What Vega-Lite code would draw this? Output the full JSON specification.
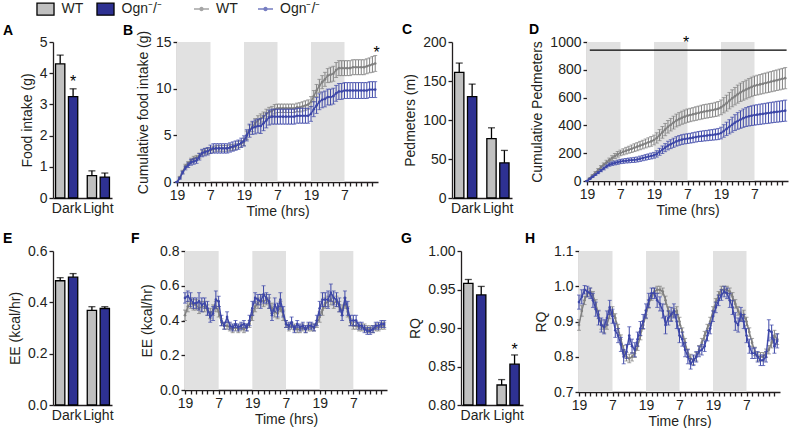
{
"$schema":"https://vega.github.io/schema/vega-lite/v6.json",
"padding":{"left":3,"top":2,"right":0,"bottom":0},
"config":{
 "font":"Liberation Sans",
 "view":{"stroke":null},
 "axis":{"labelFont":"Liberation Sans","titleFont":"Liberation Sans","labelFontSize":14,"titleFontSize":14,"titleFontWeight":"normal","labelColor":"#231f20","titleColor":"#231f20","domainColor":"#231f20","tickColor":"#231f20","domainWidth":1.3,"tickWidth":1.3,"tickSize":4,"labelPadding":2,"grid":false,"titlePadding":5},
 "title":{"font":"Liberation Sans","fontSize":14,"fontWeight":"bold","anchor":"start","frame":"group","color":"#000"},
 "legend":{"labelFont":"Liberation Sans","labelFontSize":14,"labelColor":"#231f20","padding":0}
},
"datasets":{
 "night":[{"t":0,"t2":12},{"t":24,"t2":36},{"t":48,"t2":60}],
 "A":[{"c":"Dark","g":"WT","m":4.3,"hi":4.58},{"c":"Dark","g":"Ogn⁻/⁻","m":3.25,"hi":3.5},{"c":"Light","g":"WT","m":0.72,"hi":0.87},{"c":"Light","g":"Ogn⁻/⁻","m":0.67,"hi":0.8}],
 "C":[{"c":"Dark","g":"WT","m":161,"hi":173},{"c":"Dark","g":"Ogn⁻/⁻","m":130,"hi":146},{"c":"Light","g":"WT","m":76,"hi":90},{"c":"Light","g":"Ogn⁻/⁻","m":45,"hi":61}],
 "E":[{"c":"Dark","g":"WT","m":0.484,"hi":0.496},{"c":"Dark","g":"Ogn⁻/⁻","m":0.498,"hi":0.512},{"c":"Light","g":"WT","m":0.369,"hi":0.383},{"c":"Light","g":"Ogn⁻/⁻","m":0.376,"hi":0.383}],
 "G":[{"c":"Dark","g":"WT","m":0.958,"hi":0.963},{"c":"Dark","g":"Ogn⁻/⁻","m":0.943,"hi":0.954},{"c":"Light","g":"WT","m":0.826,"hi":0.833},{"c":"Light","g":"Ogn⁻/⁻","m":0.853,"hi":0.865}],
 "B":[
{"t":0,"g":"WT","m":0,"e":0},{"t":1,"g":"WT","m":0.5,"e":0.1},{"t":2,"g":"WT","m":1.1,"e":0.15},{"t":3,"g":"WT","m":1.7,"e":0.2},{"t":4,"g":"WT","m":2.0,"e":0.2},{"t":5,"g":"WT","m":2.3,"e":0.25},{"t":6,"g":"WT","m":2.5,"e":0.25},{"t":7,"g":"WT","m":2.6,"e":0.25},{"t":8,"g":"WT","m":2.8,"e":0.3},{"t":9,"g":"WT","m":3.1,"e":0.3},{"t":10,"g":"WT","m":3.3,"e":0.3},{"t":11,"g":"WT","m":3.3,"e":0.3},
{"t":12,"g":"WT","m":3.4,"e":0.3},{"t":13,"g":"WT","m":3.5,"e":0.3},{"t":14,"g":"WT","m":3.6,"e":0.3},{"t":15,"g":"WT","m":3.6,"e":0.3},{"t":16,"g":"WT","m":3.6,"e":0.3},{"t":17,"g":"WT","m":3.6,"e":0.3},{"t":18,"g":"WT","m":3.6,"e":0.3},{"t":19,"g":"WT","m":3.7,"e":0.3},{"t":20,"g":"WT","m":3.7,"e":0.3},{"t":21,"g":"WT","m":3.8,"e":0.3},{"t":22,"g":"WT","m":4.0,"e":0.35},{"t":23,"g":"WT","m":4.1,"e":0.35},
{"t":24,"g":"WT","m":4.3,"e":0.4},{"t":25,"g":"WT","m":5.0,"e":0.45},{"t":26,"g":"WT","m":5.6,"e":0.5},{"t":27,"g":"WT","m":5.9,"e":0.5},{"t":28,"g":"WT","m":6.3,"e":0.5},{"t":29,"g":"WT","m":6.6,"e":0.5},{"t":30,"g":"WT","m":6.8,"e":0.5},{"t":31,"g":"WT","m":7.0,"e":0.5},{"t":32,"g":"WT","m":7.3,"e":0.5},{"t":33,"g":"WT","m":7.5,"e":0.5},{"t":34,"g":"WT","m":7.6,"e":0.5},{"t":35,"g":"WT","m":7.8,"e":0.5},
{"t":36,"g":"WT","m":7.9,"e":0.45},{"t":37,"g":"WT","m":7.9,"e":0.45},{"t":38,"g":"WT","m":7.9,"e":0.45},{"t":39,"g":"WT","m":7.9,"e":0.45},{"t":40,"g":"WT","m":7.9,"e":0.45},{"t":41,"g":"WT","m":7.9,"e":0.45},{"t":42,"g":"WT","m":7.9,"e":0.45},{"t":43,"g":"WT","m":8.0,"e":0.45},{"t":44,"g":"WT","m":8.0,"e":0.5},{"t":45,"g":"WT","m":8.1,"e":0.5},{"t":46,"g":"WT","m":8.2,"e":0.5},{"t":47,"g":"WT","m":8.3,"e":0.5},
{"t":48,"g":"WT","m":8.6,"e":0.55},{"t":49,"g":"WT","m":9.2,"e":0.6},{"t":50,"g":"WT","m":9.8,"e":0.65},{"t":51,"g":"WT","m":10.3,"e":0.7},{"t":52,"g":"WT","m":10.7,"e":0.7},{"t":53,"g":"WT","m":11.0,"e":0.75},{"t":54,"g":"WT","m":11.4,"e":0.75},{"t":55,"g":"WT","m":11.5,"e":0.8},{"t":56,"g":"WT","m":11.6,"e":0.8},{"t":57,"g":"WT","m":12.0,"e":0.8},{"t":58,"g":"WT","m":12.2,"e":0.8},{"t":59,"g":"WT","m":12.2,"e":0.8},
{"t":60,"g":"WT","m":12.2,"e":0.8},{"t":61,"g":"WT","m":12.2,"e":0.8},{"t":62,"g":"WT","m":12.2,"e":0.8},{"t":63,"g":"WT","m":12.3,"e":0.8},{"t":64,"g":"WT","m":12.3,"e":0.8},{"t":65,"g":"WT","m":12.3,"e":0.8},{"t":66,"g":"WT","m":12.3,"e":0.8},{"t":67,"g":"WT","m":12.3,"e":0.8},{"t":68,"g":"WT","m":12.4,"e":0.8},{"t":69,"g":"WT","m":12.5,"e":0.8},{"t":70,"g":"WT","m":12.6,"e":0.85},{"t":71,"g":"WT","m":12.7,"e":0.85},
{"t":0,"g":"Ogn⁻/⁻","m":0,"e":0},{"t":1,"g":"Ogn⁻/⁻","m":0.4,"e":0.1},{"t":2,"g":"Ogn⁻/⁻","m":1.0,"e":0.15},{"t":3,"g":"Ogn⁻/⁻","m":1.5,"e":0.2},{"t":4,"g":"Ogn⁻/⁻","m":1.8,"e":0.25},{"t":5,"g":"Ogn⁻/⁻","m":2.1,"e":0.3},{"t":6,"g":"Ogn⁻/⁻","m":2.2,"e":0.3},{"t":7,"g":"Ogn⁻/⁻","m":2.3,"e":0.3},{"t":8,"g":"Ogn⁻/⁻","m":2.7,"e":0.35},{"t":9,"g":"Ogn⁻/⁻","m":3.1,"e":0.4},{"t":10,"g":"Ogn⁻/⁻","m":3.2,"e":0.4},{"t":11,"g":"Ogn⁻/⁻","m":3.3,"e":0.4},
{"t":12,"g":"Ogn⁻/⁻","m":3.5,"e":0.45},{"t":13,"g":"Ogn⁻/⁻","m":3.6,"e":0.5},{"t":14,"g":"Ogn⁻/⁻","m":3.6,"e":0.5},{"t":15,"g":"Ogn⁻/⁻","m":3.6,"e":0.5},{"t":16,"g":"Ogn⁻/⁻","m":3.6,"e":0.5},{"t":17,"g":"Ogn⁻/⁻","m":3.6,"e":0.5},{"t":18,"g":"Ogn⁻/⁻","m":3.6,"e":0.5},{"t":19,"g":"Ogn⁻/⁻","m":3.7,"e":0.5},{"t":20,"g":"Ogn⁻/⁻","m":3.8,"e":0.5},{"t":21,"g":"Ogn⁻/⁻","m":3.9,"e":0.5},{"t":22,"g":"Ogn⁻/⁻","m":4.0,"e":0.5},{"t":23,"g":"Ogn⁻/⁻","m":4.2,"e":0.5},
{"t":24,"g":"Ogn⁻/⁻","m":4.4,"e":0.55},{"t":25,"g":"Ogn⁻/⁻","m":5.0,"e":0.6},{"t":26,"g":"Ogn⁻/⁻","m":5.5,"e":0.7},{"t":27,"g":"Ogn⁻/⁻","m":5.8,"e":0.7},{"t":28,"g":"Ogn⁻/⁻","m":5.9,"e":0.75},{"t":29,"g":"Ogn⁻/⁻","m":6.0,"e":0.75},{"t":30,"g":"Ogn⁻/⁻","m":6.0,"e":0.8},{"t":31,"g":"Ogn⁻/⁻","m":6.3,"e":0.8},{"t":32,"g":"Ogn⁻/⁻","m":6.6,"e":0.8},{"t":33,"g":"Ogn⁻/⁻","m":6.9,"e":0.8},{"t":34,"g":"Ogn⁻/⁻","m":7.0,"e":0.8},{"t":35,"g":"Ogn⁻/⁻","m":7.0,"e":0.8},
{"t":36,"g":"Ogn⁻/⁻","m":7.0,"e":0.8},{"t":37,"g":"Ogn⁻/⁻","m":7.0,"e":0.8},{"t":38,"g":"Ogn⁻/⁻","m":7.0,"e":0.8},{"t":39,"g":"Ogn⁻/⁻","m":7.0,"e":0.8},{"t":40,"g":"Ogn⁻/⁻","m":7.0,"e":0.8},{"t":41,"g":"Ogn⁻/⁻","m":7.0,"e":0.8},{"t":42,"g":"Ogn⁻/⁻","m":7.0,"e":0.8},{"t":43,"g":"Ogn⁻/⁻","m":7.1,"e":0.8},{"t":44,"g":"Ogn⁻/⁻","m":7.1,"e":0.8},{"t":45,"g":"Ogn⁻/⁻","m":7.1,"e":0.8},{"t":46,"g":"Ogn⁻/⁻","m":7.1,"e":0.8},{"t":47,"g":"Ogn⁻/⁻","m":7.1,"e":0.8},
{"t":48,"g":"Ogn⁻/⁻","m":7.3,"e":0.8},{"t":49,"g":"Ogn⁻/⁻","m":7.8,"e":0.8},{"t":50,"g":"Ogn⁻/⁻","m":8.2,"e":0.85},{"t":51,"g":"Ogn⁻/⁻","m":8.6,"e":0.85},{"t":52,"g":"Ogn⁻/⁻","m":8.8,"e":0.85},{"t":53,"g":"Ogn⁻/⁻","m":8.9,"e":0.85},{"t":54,"g":"Ogn⁻/⁻","m":9.1,"e":0.85},{"t":55,"g":"Ogn⁻/⁻","m":9.1,"e":0.85},{"t":56,"g":"Ogn⁻/⁻","m":9.2,"e":0.85},{"t":57,"g":"Ogn⁻/⁻","m":9.5,"e":0.85},{"t":58,"g":"Ogn⁻/⁻","m":9.7,"e":0.85},{"t":59,"g":"Ogn⁻/⁻","m":9.7,"e":0.85},
{"t":60,"g":"Ogn⁻/⁻","m":9.8,"e":0.85},{"t":61,"g":"Ogn⁻/⁻","m":9.8,"e":0.85},{"t":62,"g":"Ogn⁻/⁻","m":9.8,"e":0.85},{"t":63,"g":"Ogn⁻/⁻","m":9.8,"e":0.85},{"t":64,"g":"Ogn⁻/⁻","m":9.8,"e":0.85},{"t":65,"g":"Ogn⁻/⁻","m":9.8,"e":0.85},{"t":66,"g":"Ogn⁻/⁻","m":9.8,"e":0.85},{"t":67,"g":"Ogn⁻/⁻","m":9.8,"e":0.85},{"t":68,"g":"Ogn⁻/⁻","m":9.8,"e":0.85},{"t":69,"g":"Ogn⁻/⁻","m":9.9,"e":0.85},{"t":70,"g":"Ogn⁻/⁻","m":9.9,"e":0.85},{"t":71,"g":"Ogn⁻/⁻","m":9.9,"e":0.85}
 ],
 "D":[
{"t":0,"g":"WT","m":0,"e":0},{"t":1,"g":"WT","m":20,"e":3},{"t":2,"g":"WT","m":40,"e":5},{"t":3,"g":"WT","m":60,"e":7},{"t":4,"g":"WT","m":80,"e":9},{"t":5,"g":"WT","m":100,"e":11},{"t":6,"g":"WT","m":118,"e":12},{"t":7,"g":"WT","m":135,"e":14},{"t":8,"g":"WT","m":150,"e":15},{"t":9,"g":"WT","m":165,"e":17},{"t":10,"g":"WT","m":180,"e":18},{"t":11,"g":"WT","m":192,"e":20},
{"t":12,"g":"WT","m":202,"e":20},{"t":13,"g":"WT","m":210,"e":22},{"t":14,"g":"WT","m":218,"e":24},{"t":15,"g":"WT","m":225,"e":25},{"t":16,"g":"WT","m":232,"e":27},{"t":17,"g":"WT","m":240,"e":28},{"t":18,"g":"WT","m":247,"e":29},{"t":19,"g":"WT","m":255,"e":30},{"t":20,"g":"WT","m":262,"e":31},{"t":21,"g":"WT","m":270,"e":32},{"t":22,"g":"WT","m":278,"e":33},{"t":23,"g":"WT","m":285,"e":35},
{"t":24,"g":"WT","m":295,"e":35},{"t":25,"g":"WT","m":310,"e":37},{"t":26,"g":"WT","m":330,"e":40},{"t":27,"g":"WT","m":350,"e":42},{"t":28,"g":"WT","m":370,"e":44},{"t":29,"g":"WT","m":390,"e":45},{"t":30,"g":"WT","m":405,"e":45},{"t":31,"g":"WT","m":420,"e":46},{"t":32,"g":"WT","m":435,"e":46},{"t":33,"g":"WT","m":445,"e":47},{"t":34,"g":"WT","m":455,"e":47},{"t":35,"g":"WT","m":463,"e":48},
{"t":36,"g":"WT","m":470,"e":48},{"t":37,"g":"WT","m":475,"e":48},{"t":38,"g":"WT","m":480,"e":48},{"t":39,"g":"WT","m":485,"e":49},{"t":40,"g":"WT","m":490,"e":49},{"t":41,"g":"WT","m":495,"e":50},{"t":42,"g":"WT","m":500,"e":50},{"t":43,"g":"WT","m":503,"e":50},{"t":44,"g":"WT","m":507,"e":50},{"t":45,"g":"WT","m":510,"e":50},{"t":46,"g":"WT","m":515,"e":51},{"t":47,"g":"WT","m":520,"e":52},
{"t":48,"g":"WT","m":530,"e":53},{"t":49,"g":"WT","m":545,"e":55},{"t":50,"g":"WT","m":560,"e":57},{"t":51,"g":"WT","m":578,"e":59},{"t":52,"g":"WT","m":595,"e":61},{"t":53,"g":"WT","m":610,"e":63},{"t":54,"g":"WT","m":625,"e":65},{"t":55,"g":"WT","m":638,"e":66},{"t":56,"g":"WT","m":648,"e":67},{"t":57,"g":"WT","m":658,"e":68},{"t":58,"g":"WT","m":668,"e":69},{"t":59,"g":"WT","m":677,"e":70},
{"t":60,"g":"WT","m":685,"e":70},{"t":61,"g":"WT","m":690,"e":71},{"t":62,"g":"WT","m":695,"e":71},{"t":63,"g":"WT","m":700,"e":72},{"t":64,"g":"WT","m":705,"e":72},{"t":65,"g":"WT","m":710,"e":73},{"t":66,"g":"WT","m":715,"e":73},{"t":67,"g":"WT","m":720,"e":74},{"t":68,"g":"WT","m":725,"e":74},{"t":69,"g":"WT","m":730,"e":75},{"t":70,"g":"WT","m":735,"e":75},{"t":71,"g":"WT","m":740,"e":76},
{"t":0,"g":"Ogn⁻/⁻","m":0,"e":0},{"t":1,"g":"Ogn⁻/⁻","m":15,"e":2},{"t":2,"g":"Ogn⁻/⁻","m":30,"e":4},{"t":3,"g":"Ogn⁻/⁻","m":45,"e":5},{"t":4,"g":"Ogn⁻/⁻","m":60,"e":7},{"t":5,"g":"Ogn⁻/⁻","m":75,"e":8},{"t":6,"g":"Ogn⁻/⁻","m":90,"e":10},{"t":7,"g":"Ogn⁻/⁻","m":105,"e":11},{"t":8,"g":"Ogn⁻/⁻","m":118,"e":12},{"t":9,"g":"Ogn⁻/⁻","m":125,"e":13},{"t":10,"g":"Ogn⁻/⁻","m":130,"e":14},{"t":11,"g":"Ogn⁻/⁻","m":135,"e":15},
{"t":12,"g":"Ogn⁻/⁻","m":140,"e":15},{"t":13,"g":"Ogn⁻/⁻","m":143,"e":16},{"t":14,"g":"Ogn⁻/⁻","m":146,"e":16},{"t":15,"g":"Ogn⁻/⁻","m":148,"e":17},{"t":16,"g":"Ogn⁻/⁻","m":150,"e":17},{"t":17,"g":"Ogn⁻/⁻","m":152,"e":18},{"t":18,"g":"Ogn⁻/⁻","m":155,"e":18},{"t":19,"g":"Ogn⁻/⁻","m":160,"e":19},{"t":20,"g":"Ogn⁻/⁻","m":165,"e":19},{"t":21,"g":"Ogn⁻/⁻","m":170,"e":20},{"t":22,"g":"Ogn⁻/⁻","m":175,"e":20},{"t":23,"g":"Ogn⁻/⁻","m":180,"e":21},
{"t":24,"g":"Ogn⁻/⁻","m":185,"e":21},{"t":25,"g":"Ogn⁻/⁻","m":195,"e":23},{"t":26,"g":"Ogn⁻/⁻","m":210,"e":25},{"t":27,"g":"Ogn⁻/⁻","m":225,"e":27},{"t":28,"g":"Ogn⁻/⁻","m":240,"e":29},{"t":29,"g":"Ogn⁻/⁻","m":255,"e":31},{"t":30,"g":"Ogn⁻/⁻","m":265,"e":32},{"t":31,"g":"Ogn⁻/⁻","m":275,"e":33},{"t":32,"g":"Ogn⁻/⁻","m":285,"e":34},{"t":33,"g":"Ogn⁻/⁻","m":292,"e":35},{"t":34,"g":"Ogn⁻/⁻","m":298,"e":35},{"t":35,"g":"Ogn⁻/⁻","m":302,"e":35},
{"t":36,"g":"Ogn⁻/⁻","m":305,"e":35},{"t":37,"g":"Ogn⁻/⁻","m":308,"e":35},{"t":38,"g":"Ogn⁻/⁻","m":312,"e":36},{"t":39,"g":"Ogn⁻/⁻","m":316,"e":36},{"t":40,"g":"Ogn⁻/⁻","m":320,"e":36},{"t":41,"g":"Ogn⁻/⁻","m":322,"e":37},{"t":42,"g":"Ogn⁻/⁻","m":325,"e":37},{"t":43,"g":"Ogn⁻/⁻","m":327,"e":37},{"t":44,"g":"Ogn⁻/⁻","m":330,"e":38},{"t":45,"g":"Ogn⁻/⁻","m":332,"e":38},{"t":46,"g":"Ogn⁻/⁻","m":335,"e":39},{"t":47,"g":"Ogn⁻/⁻","m":338,"e":40},
{"t":48,"g":"Ogn⁻/⁻","m":345,"e":42},{"t":49,"g":"Ogn⁻/⁻","m":360,"e":45},{"t":50,"g":"Ogn⁻/⁻","m":375,"e":48},{"t":51,"g":"Ogn⁻/⁻","m":390,"e":51},{"t":52,"g":"Ogn⁻/⁻","m":405,"e":54},{"t":53,"g":"Ogn⁻/⁻","m":420,"e":57},{"t":54,"g":"Ogn⁻/⁻","m":432,"e":60},{"t":55,"g":"Ogn⁻/⁻","m":442,"e":63},{"t":56,"g":"Ogn⁻/⁻","m":452,"e":66},{"t":57,"g":"Ogn⁻/⁻","m":460,"e":68},{"t":58,"g":"Ogn⁻/⁻","m":466,"e":70},{"t":59,"g":"Ogn⁻/⁻","m":470,"e":71},
{"t":60,"g":"Ogn⁻/⁻","m":474,"e":72},{"t":61,"g":"Ogn⁻/⁻","m":477,"e":72},{"t":62,"g":"Ogn⁻/⁻","m":480,"e":73},{"t":63,"g":"Ogn⁻/⁻","m":483,"e":73},{"t":64,"g":"Ogn⁻/⁻","m":486,"e":73},{"t":65,"g":"Ogn⁻/⁻","m":489,"e":74},{"t":66,"g":"Ogn⁻/⁻","m":492,"e":74},{"t":67,"g":"Ogn⁻/⁻","m":495,"e":74},{"t":68,"g":"Ogn⁻/⁻","m":498,"e":75},{"t":69,"g":"Ogn⁻/⁻","m":500,"e":75},{"t":70,"g":"Ogn⁻/⁻","m":503,"e":75},{"t":71,"g":"Ogn⁻/⁻","m":506,"e":76}
 ],
 "F":[
{"t":0,"g":"WT","m":0.43,"e":0.03},{"t":1,"g":"WT","m":0.48,"e":0.03},{"t":2,"g":"WT","m":0.50,"e":0.03},{"t":3,"g":"WT","m":0.49,"e":0.03},{"t":4,"g":"WT","m":0.49,"e":0.03},{"t":5,"g":"WT","m":0.47,"e":0.03},{"t":6,"g":"WT","m":0.48,"e":0.03},{"t":7,"g":"WT","m":0.48,"e":0.03},{"t":8,"g":"WT","m":0.46,"e":0.03},{"t":9,"g":"WT","m":0.44,"e":0.03},{"t":10,"g":"WT","m":0.46,"e":0.03},{"t":11,"g":"WT","m":0.48,"e":0.03},
{"t":12,"g":"WT","m":0.45,"e":0.03},{"t":13,"g":"WT","m":0.39,"e":0.02},{"t":14,"g":"WT","m":0.37,"e":0.02},{"t":15,"g":"WT","m":0.37,"e":0.02},{"t":16,"g":"WT","m":0.36,"e":0.02},{"t":17,"g":"WT","m":0.35,"e":0.02},{"t":18,"g":"WT","m":0.36,"e":0.02},{"t":19,"g":"WT","m":0.35,"e":0.02},{"t":20,"g":"WT","m":0.36,"e":0.02},{"t":21,"g":"WT","m":0.35,"e":0.02},{"t":22,"g":"WT","m":0.36,"e":0.02},{"t":23,"g":"WT","m":0.38,"e":0.02},
{"t":24,"g":"WT","m":0.43,"e":0.03},{"t":25,"g":"WT","m":0.48,"e":0.03},{"t":26,"g":"WT","m":0.50,"e":0.03},{"t":27,"g":"WT","m":0.52,"e":0.03},{"t":28,"g":"WT","m":0.51,"e":0.03},{"t":29,"g":"WT","m":0.52,"e":0.03},{"t":30,"g":"WT","m":0.50,"e":0.03},{"t":31,"g":"WT","m":0.47,"e":0.03},{"t":32,"g":"WT","m":0.45,"e":0.03},{"t":33,"g":"WT","m":0.44,"e":0.03},{"t":34,"g":"WT","m":0.48,"e":0.03},{"t":35,"g":"WT","m":0.43,"e":0.03},
{"t":36,"g":"WT","m":0.38,"e":0.02},{"t":37,"g":"WT","m":0.36,"e":0.02},{"t":38,"g":"WT","m":0.37,"e":0.02},{"t":39,"g":"WT","m":0.36,"e":0.02},{"t":40,"g":"WT","m":0.35,"e":0.02},{"t":41,"g":"WT","m":0.35,"e":0.02},{"t":42,"g":"WT","m":0.36,"e":0.02},{"t":43,"g":"WT","m":0.35,"e":0.02},{"t":44,"g":"WT","m":0.36,"e":0.02},{"t":45,"g":"WT","m":0.36,"e":0.02},{"t":46,"g":"WT","m":0.36,"e":0.02},{"t":47,"g":"WT","m":0.38,"e":0.02},
{"t":48,"g":"WT","m":0.42,"e":0.03},{"t":49,"g":"WT","m":0.46,"e":0.03},{"t":50,"g":"WT","m":0.50,"e":0.03},{"t":51,"g":"WT","m":0.51,"e":0.03},{"t":52,"g":"WT","m":0.52,"e":0.03},{"t":53,"g":"WT","m":0.50,"e":0.03},{"t":54,"g":"WT","m":0.51,"e":0.03},{"t":55,"g":"WT","m":0.48,"e":0.03},{"t":56,"g":"WT","m":0.46,"e":0.03},{"t":57,"g":"WT","m":0.50,"e":0.03},{"t":58,"g":"WT","m":0.45,"e":0.03},{"t":59,"g":"WT","m":0.39,"e":0.02},
{"t":60,"g":"WT","m":0.37,"e":0.02},{"t":61,"g":"WT","m":0.37,"e":0.02},{"t":62,"g":"WT","m":0.36,"e":0.02},{"t":63,"g":"WT","m":0.36,"e":0.02},{"t":64,"g":"WT","m":0.36,"e":0.02},{"t":65,"g":"WT","m":0.35,"e":0.02},{"t":66,"g":"WT","m":0.35,"e":0.02},{"t":67,"g":"WT","m":0.35,"e":0.02},{"t":68,"g":"WT","m":0.36,"e":0.02},{"t":69,"g":"WT","m":0.36,"e":0.02},{"t":70,"g":"WT","m":0.37,"e":0.02},{"t":71,"g":"WT","m":0.37,"e":0.02},
{"t":0,"g":"Ogn⁻/⁻","m":0.53,"e":0.03},{"t":1,"g":"Ogn⁻/⁻","m":0.54,"e":0.03},{"t":2,"g":"Ogn⁻/⁻","m":0.52,"e":0.04},{"t":3,"g":"Ogn⁻/⁻","m":0.50,"e":0.03},{"t":4,"g":"Ogn⁻/⁻","m":0.50,"e":0.03},{"t":5,"g":"Ogn⁻/⁻","m":0.51,"e":0.05},{"t":6,"g":"Ogn⁻/⁻","m":0.49,"e":0.04},{"t":7,"g":"Ogn⁻/⁻","m":0.50,"e":0.03},{"t":8,"g":"Ogn⁻/⁻","m":0.47,"e":0.04},{"t":9,"g":"Ogn⁻/⁻","m":0.42,"e":0.03},{"t":10,"g":"Ogn⁻/⁻","m":0.44,"e":0.04},{"t":11,"g":"Ogn⁻/⁻","m":0.52,"e":0.05},
{"t":12,"g":"Ogn⁻/⁻","m":0.51,"e":0.03},{"t":13,"g":"Ogn⁻/⁻","m":0.40,"e":0.03},{"t":14,"g":"Ogn⁻/⁻","m":0.37,"e":0.02},{"t":15,"g":"Ogn⁻/⁻","m":0.42,"e":0.03},{"t":16,"g":"Ogn⁻/⁻","m":0.37,"e":0.02},{"t":17,"g":"Ogn⁻/⁻","m":0.36,"e":0.02},{"t":18,"g":"Ogn⁻/⁻","m":0.38,"e":0.02},{"t":19,"g":"Ogn⁻/⁻","m":0.36,"e":0.02},{"t":20,"g":"Ogn⁻/⁻","m":0.37,"e":0.02},{"t":21,"g":"Ogn⁻/⁻","m":0.38,"e":0.02},{"t":22,"g":"Ogn⁻/⁻","m":0.36,"e":0.02},{"t":23,"g":"Ogn⁻/⁻","m":0.40,"e":0.03},
{"t":24,"g":"Ogn⁻/⁻","m":0.47,"e":0.04},{"t":25,"g":"Ogn⁻/⁻","m":0.53,"e":0.03},{"t":26,"g":"Ogn⁻/⁻","m":0.52,"e":0.03},{"t":27,"g":"Ogn⁻/⁻","m":0.51,"e":0.04},{"t":28,"g":"Ogn⁻/⁻","m":0.55,"e":0.05},{"t":29,"g":"Ogn⁻/⁻","m":0.53,"e":0.03},{"t":30,"g":"Ogn⁻/⁻","m":0.51,"e":0.04},{"t":31,"g":"Ogn⁻/⁻","m":0.43,"e":0.03},{"t":32,"g":"Ogn⁻/⁻","m":0.49,"e":0.04},{"t":33,"g":"Ogn⁻/⁻","m":0.46,"e":0.04},{"t":34,"g":"Ogn⁻/⁻","m":0.52,"e":0.04},{"t":35,"g":"Ogn⁻/⁻","m":0.45,"e":0.03},
{"t":36,"g":"Ogn⁻/⁻","m":0.38,"e":0.02},{"t":37,"g":"Ogn⁻/⁻","m":0.37,"e":0.02},{"t":38,"g":"Ogn⁻/⁻","m":0.39,"e":0.03},{"t":39,"g":"Ogn⁻/⁻","m":0.35,"e":0.02},{"t":40,"g":"Ogn⁻/⁻","m":0.38,"e":0.02},{"t":41,"g":"Ogn⁻/⁻","m":0.36,"e":0.02},{"t":42,"g":"Ogn⁻/⁻","m":0.37,"e":0.02},{"t":43,"g":"Ogn⁻/⁻","m":0.35,"e":0.02},{"t":44,"g":"Ogn⁻/⁻","m":0.37,"e":0.02},{"t":45,"g":"Ogn⁻/⁻","m":0.37,"e":0.02},{"t":46,"g":"Ogn⁻/⁻","m":0.36,"e":0.02},{"t":47,"g":"Ogn⁻/⁻","m":0.40,"e":0.03},
{"t":48,"g":"Ogn⁻/⁻","m":0.47,"e":0.04},{"t":49,"g":"Ogn⁻/⁻","m":0.52,"e":0.04},{"t":50,"g":"Ogn⁻/⁻","m":0.52,"e":0.04},{"t":51,"g":"Ogn⁻/⁻","m":0.52,"e":0.05},{"t":52,"g":"Ogn⁻/⁻","m":0.56,"e":0.05},{"t":53,"g":"Ogn⁻/⁻","m":0.53,"e":0.04},{"t":54,"g":"Ogn⁻/⁻","m":0.52,"e":0.04},{"t":55,"g":"Ogn⁻/⁻","m":0.49,"e":0.04},{"t":56,"g":"Ogn⁻/⁻","m":0.43,"e":0.03},{"t":57,"g":"Ogn⁻/⁻","m":0.53,"e":0.04},{"t":58,"g":"Ogn⁻/⁻","m":0.47,"e":0.04},{"t":59,"g":"Ogn⁻/⁻","m":0.40,"e":0.03},
{"t":60,"g":"Ogn⁻/⁻","m":0.40,"e":0.03},{"t":61,"g":"Ogn⁻/⁻","m":0.40,"e":0.03},{"t":62,"g":"Ogn⁻/⁻","m":0.37,"e":0.02},{"t":63,"g":"Ogn⁻/⁻","m":0.37,"e":0.02},{"t":64,"g":"Ogn⁻/⁻","m":0.35,"e":0.02},{"t":65,"g":"Ogn⁻/⁻","m":0.34,"e":0.02},{"t":66,"g":"Ogn⁻/⁻","m":0.34,"e":0.02},{"t":67,"g":"Ogn⁻/⁻","m":0.35,"e":0.02},{"t":68,"g":"Ogn⁻/⁻","m":0.37,"e":0.02},{"t":69,"g":"Ogn⁻/⁻","m":0.37,"e":0.02},{"t":70,"g":"Ogn⁻/⁻","m":0.38,"e":0.02},{"t":71,"g":"Ogn⁻/⁻","m":0.38,"e":0.02}
 ],
 "H":[
{"t":0,"g":"WT","m":0.890,"e":0.015},{"t":1,"g":"WT","m":0.930,"e":0.015},{"t":2,"g":"WT","m":0.960,"e":0.012},{"t":3,"g":"WT","m":0.980,"e":0.01},{"t":4,"g":"WT","m":0.985,"e":0.01},{"t":5,"g":"WT","m":0.975,"e":0.01},{"t":6,"g":"WT","m":0.950,"e":0.012},{"t":7,"g":"WT","m":0.920,"e":0.012},{"t":8,"g":"WT","m":0.890,"e":0.012},{"t":9,"g":"WT","m":0.880,"e":0.012},{"t":10,"g":"WT","m":0.890,"e":0.012},{"t":11,"g":"WT","m":0.920,"e":0.012},
{"t":12,"g":"WT","m":0.930,"e":0.012},{"t":13,"g":"WT","m":0.910,"e":0.012},{"t":14,"g":"WT","m":0.880,"e":0.012},{"t":15,"g":"WT","m":0.850,"e":0.012},{"t":16,"g":"WT","m":0.820,"e":0.012},{"t":17,"g":"WT","m":0.800,"e":0.012},{"t":18,"g":"WT","m":0.795,"e":0.012},{"t":19,"g":"WT","m":0.800,"e":0.012},{"t":20,"g":"WT","m":0.810,"e":0.012},{"t":21,"g":"WT","m":0.830,"e":0.012},{"t":22,"g":"WT","m":0.860,"e":0.012},{"t":23,"g":"WT","m":0.890,"e":0.012},
{"t":24,"g":"WT","m":0.920,"e":0.012},{"t":25,"g":"WT","m":0.950,"e":0.012},{"t":26,"g":"WT","m":0.970,"e":0.01},{"t":27,"g":"WT","m":0.985,"e":0.01},{"t":28,"g":"WT","m":0.990,"e":0.01},{"t":29,"g":"WT","m":0.990,"e":0.01},{"t":30,"g":"WT","m":0.985,"e":0.01},{"t":31,"g":"WT","m":0.960,"e":0.012},{"t":32,"g":"WT","m":0.930,"e":0.012},{"t":33,"g":"WT","m":0.915,"e":0.012},{"t":34,"g":"WT","m":0.925,"e":0.012},{"t":35,"g":"WT","m":0.930,"e":0.012},
{"t":36,"g":"WT","m":0.900,"e":0.012},{"t":37,"g":"WT","m":0.870,"e":0.012},{"t":38,"g":"WT","m":0.840,"e":0.012},{"t":39,"g":"WT","m":0.810,"e":0.012},{"t":40,"g":"WT","m":0.795,"e":0.012},{"t":41,"g":"WT","m":0.790,"e":0.012},{"t":42,"g":"WT","m":0.800,"e":0.012},{"t":43,"g":"WT","m":0.820,"e":0.012},{"t":44,"g":"WT","m":0.840,"e":0.012},{"t":45,"g":"WT","m":0.860,"e":0.012},{"t":46,"g":"WT","m":0.880,"e":0.012},{"t":47,"g":"WT","m":0.900,"e":0.012},
{"t":48,"g":"WT","m":0.930,"e":0.012},{"t":49,"g":"WT","m":0.955,"e":0.01},{"t":50,"g":"WT","m":0.975,"e":0.01},{"t":51,"g":"WT","m":0.990,"e":0.01},{"t":52,"g":"WT","m":0.990,"e":0.01},{"t":53,"g":"WT","m":0.990,"e":0.01},{"t":54,"g":"WT","m":0.985,"e":0.01},{"t":55,"g":"WT","m":0.970,"e":0.012},{"t":56,"g":"WT","m":0.950,"e":0.012},{"t":57,"g":"WT","m":0.930,"e":0.012},{"t":58,"g":"WT","m":0.915,"e":0.012},{"t":59,"g":"WT","m":0.920,"e":0.012},
{"t":60,"g":"WT","m":0.900,"e":0.012},{"t":61,"g":"WT","m":0.870,"e":0.012},{"t":62,"g":"WT","m":0.840,"e":0.012},{"t":63,"g":"WT","m":0.815,"e":0.012},{"t":64,"g":"WT","m":0.800,"e":0.012},{"t":65,"g":"WT","m":0.800,"e":0.012},{"t":66,"g":"WT","m":0.800,"e":0.012},{"t":67,"g":"WT","m":0.810,"e":0.012},{"t":68,"g":"WT","m":0.820,"e":0.012},{"t":69,"g":"WT","m":0.840,"e":0.015},{"t":70,"g":"WT","m":0.860,"e":0.015},{"t":71,"g":"WT","m":0.850,"e":0.015},
{"t":0,"g":"Ogn⁻/⁻","m":0.955,"e":0.02},{"t":1,"g":"Ogn⁻/⁻","m":0.970,"e":0.02},{"t":2,"g":"Ogn⁻/⁻","m":0.990,"e":0.012},{"t":3,"g":"Ogn⁻/⁻","m":0.985,"e":0.015},{"t":4,"g":"Ogn⁻/⁻","m":0.980,"e":0.015},{"t":5,"g":"Ogn⁻/⁻","m":0.960,"e":0.02},{"t":6,"g":"Ogn⁻/⁻","m":0.935,"e":0.02},{"t":7,"g":"Ogn⁻/⁻","m":0.910,"e":0.02},{"t":8,"g":"Ogn⁻/⁻","m":0.890,"e":0.02},{"t":9,"g":"Ogn⁻/⁻","m":0.885,"e":0.02},{"t":10,"g":"Ogn⁻/⁻","m":0.910,"e":0.02},{"t":11,"g":"Ogn⁻/⁻","m":0.940,"e":0.02},
{"t":12,"g":"Ogn⁻/⁻","m":0.915,"e":0.02},{"t":13,"g":"Ogn⁻/⁻","m":0.875,"e":0.02},{"t":14,"g":"Ogn⁻/⁻","m":0.860,"e":0.02},{"t":15,"g":"Ogn⁻/⁻","m":0.835,"e":0.02},{"t":16,"g":"Ogn⁻/⁻","m":0.800,"e":0.02},{"t":17,"g":"Ogn⁻/⁻","m":0.815,"e":0.02},{"t":18,"g":"Ogn⁻/⁻","m":0.860,"e":0.025},{"t":19,"g":"Ogn⁻/⁻","m":0.830,"e":0.02},{"t":20,"g":"Ogn⁻/⁻","m":0.820,"e":0.02},{"t":21,"g":"Ogn⁻/⁻","m":0.850,"e":0.02},{"t":22,"g":"Ogn⁻/⁻","m":0.880,"e":0.02},{"t":23,"g":"Ogn⁻/⁻","m":0.900,"e":0.02},
{"t":24,"g":"Ogn⁻/⁻","m":0.930,"e":0.02},{"t":25,"g":"Ogn⁻/⁻","m":0.960,"e":0.02},{"t":26,"g":"Ogn⁻/⁻","m":0.980,"e":0.015},{"t":27,"g":"Ogn⁻/⁻","m":0.980,"e":0.015},{"t":28,"g":"Ogn⁻/⁻","m":0.960,"e":0.02},{"t":29,"g":"Ogn⁻/⁻","m":0.950,"e":0.02},{"t":30,"g":"Ogn⁻/⁻","m":0.930,"e":0.02},{"t":31,"g":"Ogn⁻/⁻","m":0.890,"e":0.025},{"t":32,"g":"Ogn⁻/⁻","m":0.910,"e":0.02},{"t":33,"g":"Ogn⁻/⁻","m":0.920,"e":0.02},{"t":34,"g":"Ogn⁻/⁻","m":0.930,"e":0.02},{"t":35,"g":"Ogn⁻/⁻","m":0.900,"e":0.02},
{"t":36,"g":"Ogn⁻/⁻","m":0.860,"e":0.02},{"t":37,"g":"Ogn⁻/⁻","m":0.850,"e":0.02},{"t":38,"g":"Ogn⁻/⁻","m":0.820,"e":0.02},{"t":39,"g":"Ogn⁻/⁻","m":0.800,"e":0.02},{"t":40,"g":"Ogn⁻/⁻","m":0.780,"e":0.015},{"t":41,"g":"Ogn⁻/⁻","m":0.790,"e":0.015},{"t":42,"g":"Ogn⁻/⁻","m":0.800,"e":0.015},{"t":43,"g":"Ogn⁻/⁻","m":0.815,"e":0.015},{"t":44,"g":"Ogn⁻/⁻","m":0.820,"e":0.015},{"t":45,"g":"Ogn⁻/⁻","m":0.830,"e":0.015},{"t":46,"g":"Ogn⁻/⁻","m":0.860,"e":0.015},{"t":47,"g":"Ogn⁻/⁻","m":0.880,"e":0.015},
{"t":48,"g":"Ogn⁻/⁻","m":0.915,"e":0.015},{"t":49,"g":"Ogn⁻/⁻","m":0.940,"e":0.015},{"t":50,"g":"Ogn⁻/⁻","m":0.960,"e":0.015},{"t":51,"g":"Ogn⁻/⁻","m":0.975,"e":0.015},{"t":52,"g":"Ogn⁻/⁻","m":0.985,"e":0.015},{"t":53,"g":"Ogn⁻/⁻","m":0.980,"e":0.015},{"t":54,"g":"Ogn⁻/⁻","m":0.960,"e":0.02},{"t":55,"g":"Ogn⁻/⁻","m":0.940,"e":0.02},{"t":56,"g":"Ogn⁻/⁻","m":0.900,"e":0.025},{"t":57,"g":"Ogn⁻/⁻","m":0.890,"e":0.02},{"t":58,"g":"Ogn⁻/⁻","m":0.920,"e":0.02},{"t":59,"g":"Ogn⁻/⁻","m":0.900,"e":0.02},
{"t":60,"g":"Ogn⁻/⁻","m":0.860,"e":0.02},{"t":61,"g":"Ogn⁻/⁻","m":0.830,"e":0.02},{"t":62,"g":"Ogn⁻/⁻","m":0.810,"e":0.015},{"t":63,"g":"Ogn⁻/⁻","m":0.810,"e":0.015},{"t":64,"g":"Ogn⁻/⁻","m":0.800,"e":0.015},{"t":65,"g":"Ogn⁻/⁻","m":0.790,"e":0.015},{"t":66,"g":"Ogn⁻/⁻","m":0.790,"e":0.015},{"t":67,"g":"Ogn⁻/⁻","m":0.800,"e":0.015},{"t":68,"g":"Ogn⁻/⁻","m":0.875,"e":0.03},{"t":69,"g":"Ogn⁻/⁻","m":0.870,"e":0.02},{"t":70,"g":"Ogn⁻/⁻","m":0.830,"e":0.02},{"t":71,"g":"Ogn⁻/⁻","m":0.845,"e":0.02}
 ]
},
"vconcat":[
 {"hconcat":[
   {"width":68,"height":156,
    "title":{"text":"A","dx":-50,"offset":-36},
    "data":{"name":"A"},
    "encoding":{
     "x":{"field":"c","type":"nominal","sort":["Dark","Light"],"scale":{"range":[0,59],"paddingInner":0.3,"paddingOuter":0.08},"axis":{"title":null,"ticks":false,"labelAngle":0,"labelPadding":3,"labelOverlap":false}},
     "xOffset":{"field":"g","type":"nominal","sort":["WT","Ogn⁻/⁻"],"scale":{"paddingInner":0.28}},
     "y":{"field":"m","type":"quantitative","scale":{"domain":[0,5],"nice":false},"axis":{"title":"Food intake (g)","values":[0,1,2,3,4,5]}}
    },
    "layer":[
     {"mark":{"type":"bar","stroke":"#000","strokeWidth":1.3},"encoding":{"color":{"field":"g","type":"nominal","scale":{"domain":["WT","Ogn⁻/⁻"],"range":["#c0c0c0","#2e3192"]},"legend":{"orient":"none","legendX":-14.5,"legendY":-40,"direction":"horizontal","title":null,"symbolType":"M-1.42,-1H1.42V1H-1.42Z","symbolSize":144,"symbolStrokeColor":"#000","symbolStrokeWidth":1.3,"labelOffset":9,"columnPadding":10,"padding":0}}}},
     {"mark":{"type":"rule","color":"#000","strokeWidth":1.3},"encoding":{"y2":{"field":"hi"}}},
     {"mark":{"type":"tick","color":"#000","thickness":1.3,"size":7,"orient":"horizontal"},"encoding":{"y":{"field":"hi","type":"quantitative"}}},
     {"data":{"values":[{"c":"Dark","g":"Ogn⁻/⁻","m":3.55,"s":"*"}]},"mark":{"type":"text","fontSize":16,"baseline":"alphabetic","color":"#000"},"encoding":{"text":{"field":"s"}}}
    ]},
   {"width":219,"height":140,
    "title":{"text":"B","dx":-54,"offset":-36},
    "data":{"name":"B"},
    "encoding":{
     "x":{"field":"t","type":"quantitative","scale":{"domain":[0,72],"range":[0,201],"nice":false,"zero":false},"axis":{"title":"Time (hrs)","values":[0,2,4,6,8,10,12,14,16,18,20,22,24,26,28,30,32,34,36,38,40,42,44,46,48,50,52,54,56,58,60,62,64,66,68,70],"labelExpr":"datum.value % 24 == 0 ? '19' : (datum.value % 24 == 12 ? '7' : '')","labelOverlap":false,"labelFlush":false,"titlePadding":2}},
     "y":{"field":"m","type":"quantitative","scale":{"domain":[0,15],"nice":false},"axis":{"title":"Cumulative food intake (g)","values":[0,5,10,15]}},
     "color":{"field":"g","type":"nominal","scale":{"domain":["WT","Ogn⁻/⁻"],"range":["#808080","#3d47a8"]},"legend":{"orient":"none","legendX":17.5,"legendY":-40,"direction":"horizontal","title":null,"symbolType":"M-1.5,0H1.5M0.3,0A0.3,0.3,0,1,1,-0.3,0A0.3,0.3,0,1,1,0.3,0","symbolSize":100,"symbolStrokeWidth":1.5,"labelOffset":7.5,"columnPadding":16,"padding":0}}
    },
    "layer":[
     {"data":{"name":"night"},"mark":{"type":"rect","opacity":1},"encoding":{"x2":{"field":"t2"},"y":{"value":0},"y2":{"value":"height"},"color":{"value":"#e1e1e1"}}},
     {"transform":[{"filter":{"field":"g","equal":"WT"}}],"mark":{"type":"errorbar","ticks":true,"size":4,"thickness":1},"encoding":{"yError":{"field":"e"}}},
     {"transform":[{"filter":{"field":"g","equal":"WT"}}],"mark":{"type":"line","strokeWidth":1.4,"point":{"filled":true,"size":7}}},
     {"transform":[{"filter":{"field":"g","equal":"Ogn⁻/⁻"}}],"mark":{"type":"errorbar","ticks":true,"size":4,"thickness":1},"encoding":{"yError":{"field":"e"}}},
     {"transform":[{"filter":{"field":"g","equal":"Ogn⁻/⁻"}}],"mark":{"type":"line","strokeWidth":1.4,"point":{"filled":true,"size":7}}},
     {"data":{"values":[{"t":71.5,"m":13.3,"s":"*"}]},"mark":{"type":"text","fontSize":16,"baseline":"alphabetic"},"encoding":{"text":{"field":"s"},"color":{"value":"#000"}}}
    ]},
  {"width":79,"height":156,
   "title":{"text":"C","dx":-50,"offset":-2},
   "data":{"name":"C"},
   "encoding":{
    "x":{"field":"c","type":"nominal","sort":["Dark","Light"],"scale":{"range":[0,60],"paddingInner":0.3,"paddingOuter":0.08},"axis":{"title":null,"ticks":false,"labelAngle":0,"labelPadding":3,"labelOverlap":false}},
    "xOffset":{"field":"g","type":"nominal","sort":["WT","Ogn⁻/⁻"],"scale":{"paddingInner":0.28}},
    "y":{"field":"m","type":"quantitative","scale":{"domain":[0,200],"nice":false},"axis":{"title":"Pedmeters (m)","values":[0,50,100,150,200]}}
   },
   "layer":[
    {"mark":{"type":"bar","stroke":"#000","strokeWidth":1.3},"encoding":{"color":{"field":"g","type":"nominal","scale":{"domain":["WT","Ogn⁻/⁻"],"range":["#c0c0c0","#2e3192"]},"legend":null}}},
    {"mark":{"type":"rule","color":"#000","strokeWidth":1.3},"encoding":{"y2":{"field":"hi"}}},
    {"mark":{"type":"tick","color":"#000","thickness":1.3,"size":7,"orient":"horizontal"},"encoding":{"y":{"field":"hi","type":"quantitative"}}}
   ]},
  {"width":201,"height":139,
   "title":{"text":"D","dx":-58,"offset":-2},
   "data":{"name":"D"},
   "encoding":{
    "x":{"field":"t","type":"quantitative","scale":{"domain":[0,72],"nice":false,"zero":false},"axis":{"title":"Time (hrs)","values":[0,2,4,6,8,10,12,14,16,18,20,22,24,26,28,30,32,34,36,38,40,42,44,46,48,50,52,54,56,58,60,62,64,66,68,70],"labelExpr":"datum.value % 24 == 0 ? '19' : (datum.value % 24 == 12 ? '7' : '')","labelOverlap":false,"labelFlush":false,"titlePadding":2}},
    "y":{"field":"m","type":"quantitative","scale":{"domain":[0,1000],"nice":false},"axis":{"title":"Cumulative Pedmeters","values":[0,200,400,600,800,1000],"format":"d"}},
    "color":{"field":"g","type":"nominal","scale":{"domain":["WT","Ogn⁻/⁻"],"range":["#808080","#3d47a8"]},"legend":null}
   },
   "layer":[
    {"data":{"name":"night"},"mark":{"type":"rect","opacity":1},"encoding":{"x2":{"field":"t2"},"y":{"value":0},"y2":{"value":"height"},"color":{"value":"#e1e1e1"}}},
    {"transform":[{"filter":{"field":"g","equal":"WT"}}],"mark":{"type":"errorbar","ticks":true,"size":4,"thickness":1},"encoding":{"yError":{"field":"e"}}},
    {"transform":[{"filter":{"field":"g","equal":"WT"}}],"mark":{"type":"line","strokeWidth":1.4,"point":{"filled":true,"size":7}}},
    {"transform":[{"filter":{"field":"g","equal":"Ogn⁻/⁻"}}],"mark":{"type":"errorbar","ticks":true,"size":4,"thickness":1},"encoding":{"yError":{"field":"e"}}},
    {"transform":[{"filter":{"field":"g","equal":"Ogn⁻/⁻"}}],"mark":{"type":"line","strokeWidth":1.4,"point":{"filled":true,"size":7}}},
    {"data":{"values":[{"t":1,"t2":71.5,"m":942}]},"mark":{"type":"rule","strokeWidth":1.3},"encoding":{"x2":{"field":"t2"},"color":{"value":"#000"}}},
    {"data":{"values":[{"t":35.5,"m":955,"s":"*"}]},"mark":{"type":"text","fontSize":16,"baseline":"alphabetic"},"encoding":{"text":{"field":"s"},"color":{"value":"#000"}}}
   ]}
 ],"spacing":56,"bounds":"flush","resolve":{"scale":{"color":"independent","x":"independent","y":"independent"},"legend":{"color":"independent"}}},
 {"hconcat":[
   {"width":76,"height":154,
    "title":{"text":"E","dx":-50,"offset":-2},
    "data":{"name":"E"},
    "encoding":{
     "x":{"field":"c","type":"nominal","sort":["Dark","Light"],"scale":{"range":[0,59],"paddingInner":0.3,"paddingOuter":0.08},"axis":{"title":null,"ticks":false,"labelAngle":0,"labelPadding":3,"labelOverlap":false}},
     "xOffset":{"field":"g","type":"nominal","sort":["WT","Ogn⁻/⁻"],"scale":{"paddingInner":0.28}},
     "y":{"field":"m","type":"quantitative","scale":{"domain":[0,0.6],"nice":false},"axis":{"title":"EE (kcal/hr)","values":[0,0.2,0.4,0.6],"format":".1f"}}
    },
    "layer":[
     {"mark":{"type":"bar","stroke":"#000","strokeWidth":1.3},"encoding":{"color":{"field":"g","type":"nominal","scale":{"domain":["WT","Ogn⁻/⁻"],"range":["#c0c0c0","#2e3192"]},"legend":null}}},
     {"mark":{"type":"rule","color":"#000","strokeWidth":1.3},"encoding":{"y2":{"field":"hi"}}},
     {"mark":{"type":"tick","color":"#000","thickness":1.3,"size":7,"orient":"horizontal"},"encoding":{"y":{"field":"hi","type":"quantitative"}}}
    ]},
   {"width":220,"height":139,
    "title":{"text":"F","dx":-54,"offset":-2},
    "data":{"name":"F"},
    "encoding":{
     "x":{"field":"t","type":"quantitative","scale":{"domain":[0,72],"range":[0,202],"nice":false,"zero":false},"axis":{"title":"Time (hrs)","values":[0,2,4,6,8,10,12,14,16,18,20,22,24,26,28,30,32,34,36,38,40,42,44,46,48,50,52,54,56,58,60,62,64,66,68,70],"labelExpr":"datum.value % 24 == 0 ? '19' : (datum.value % 24 == 12 ? '7' : '')","labelOverlap":false,"labelFlush":false,"titlePadding":2}},
     "y":{"field":"m","type":"quantitative","scale":{"domain":[0,0.8],"nice":false},"axis":{"title":"EE (kcal/hr)","values":[0,0.2,0.4,0.6,0.8],"format":".1f"}},
     "color":{"field":"g","type":"nominal","scale":{"domain":["WT","Ogn⁻/⁻"],"range":["#808080","#3d47a8"]},"legend":null}
    },
    "layer":[
     {"data":{"name":"night"},"mark":{"type":"rect","opacity":1},"encoding":{"x2":{"field":"t2"},"y":{"value":0},"y2":{"value":"height"},"color":{"value":"#e1e1e1"}}},
     {"transform":[{"filter":{"field":"g","equal":"WT"}}],"mark":{"type":"errorbar","ticks":true,"size":4,"thickness":1},"encoding":{"yError":{"field":"e"}}},
     {"transform":[{"filter":{"field":"g","equal":"WT"}}],"mark":{"type":"line","strokeWidth":1.4,"point":{"filled":true,"size":7}}},
     {"transform":[{"filter":{"field":"g","equal":"Ogn⁻/⁻"}}],"mark":{"type":"errorbar","ticks":true,"size":4,"thickness":1},"encoding":{"yError":{"field":"e"}}},
     {"transform":[{"filter":{"field":"g","equal":"Ogn⁻/⁻"}}],"mark":{"type":"line","strokeWidth":1.4,"point":{"filled":true,"size":7}}}
    ]},
   {"width":62,"height":154,
    "title":{"text":"G","dx":-60,"offset":-2},
    "data":{"name":"G"},
    "encoding":{
     "x":{"field":"c","type":"nominal","sort":["Dark","Light"],"scale":{"paddingInner":0.3,"paddingOuter":0.08},"axis":{"title":null,"ticks":false,"labelAngle":0,"labelPadding":3,"labelOverlap":false}},
     "xOffset":{"field":"g","type":"nominal","sort":["WT","Ogn⁻/⁻"],"scale":{"paddingInner":0.28}},
     "y":{"field":"m","type":"quantitative","scale":{"domain":[0.8,1.0],"nice":false,"zero":false},"axis":{"title":"RQ","values":[0.8,0.85,0.9,0.95,1.0],"format":".2f"}}
    },
    "layer":[
     {"mark":{"type":"bar","stroke":"#000","strokeWidth":1.3},"encoding":{"y2":{"datum":0.8},"color":{"field":"g","type":"nominal","scale":{"domain":["WT","Ogn⁻/⁻"],"range":["#c0c0c0","#2e3192"]},"legend":null}}},
     {"mark":{"type":"rule","color":"#000","strokeWidth":1.3},"encoding":{"y2":{"field":"hi"}}},
     {"mark":{"type":"tick","color":"#000","thickness":1.3,"size":7,"orient":"horizontal"},"encoding":{"y":{"field":"hi","type":"quantitative"}}},
     {"data":{"values":[{"c":"Light","g":"Ogn⁻/⁻","m":0.8647,"s":"*"}]},"mark":{"type":"text","fontSize":16,"baseline":"alphabetic","color":"#000"},"encoding":{"text":{"field":"s"}}}
    ]},
  {"width":201,"height":141,
   "title":{"text":"H","dx":-54,"offset":-2},
   "data":{"name":"H"},
   "encoding":{
    "x":{"field":"t","type":"quantitative","scale":{"domain":[0,72],"nice":false,"zero":false},"axis":{"title":"Time (hrs)","values":[0,2,4,6,8,10,12,14,16,18,20,22,24,26,28,30,32,34,36,38,40,42,44,46,48,50,52,54,56,58,60,62,64,66,68,70],"labelExpr":"datum.value % 24 == 0 ? '19' : (datum.value % 24 == 12 ? '7' : '')","labelOverlap":false,"labelFlush":false,"titlePadding":2}},
    "y":{"field":"m","type":"quantitative","scale":{"domain":[0.7,1.1],"nice":false,"zero":false},"axis":{"title":"RQ","values":[0.7,0.8,0.9,1.0,1.1],"format":".1f"}},
    "color":{"field":"g","type":"nominal","scale":{"domain":["WT","Ogn⁻/⁻"],"range":["#808080","#3d47a8"]},"legend":null}
   },
   "layer":[
    {"data":{"name":"night"},"mark":{"type":"rect","opacity":1},"encoding":{"x2":{"field":"t2"},"y":{"value":0},"y2":{"value":"height"},"color":{"value":"#e1e1e1"}}},
    {"transform":[{"filter":{"field":"g","equal":"WT"}}],"mark":{"type":"errorbar","ticks":true,"size":4,"thickness":1},"encoding":{"yError":{"field":"e"}}},
    {"transform":[{"filter":{"field":"g","equal":"WT"}}],"mark":{"type":"line","strokeWidth":1.4,"point":{"filled":true,"size":7}}},
    {"transform":[{"filter":{"field":"g","equal":"Ogn⁻/⁻"}}],"mark":{"type":"errorbar","ticks":true,"size":4,"thickness":1},"encoding":{"yError":{"field":"e"}}},
    {"transform":[{"filter":{"field":"g","equal":"Ogn⁻/⁻"}}],"mark":{"type":"line","strokeWidth":1.4,"point":{"filled":true,"size":7}}}
   ]}
 ],"spacing":56,"bounds":"flush","resolve":{"scale":{"color":"independent","x":"independent","y":"independent"},"legend":{"color":"independent"}}}
],
"spacing":14,
"resolve":{"scale":{"color":"independent","x":"independent","y":"independent"},"legend":{"color":"independent"}}
}
